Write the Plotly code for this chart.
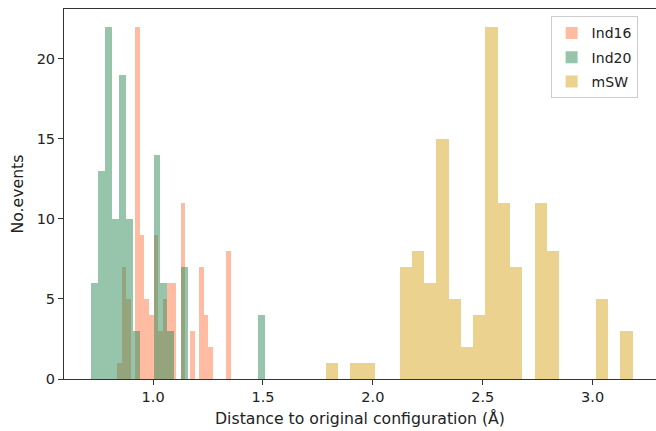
import numpy as np
import plotly.graph_objects as go

# ---- data (histogram counts, 25 bins each) ----
ind16_counts = [1, 7, 5, 0, 22, 9, 5, 4, 9, 3, 5, 6, 6, 0, 11, 0, 3, 0, 7, 4, 2, 0, 0, 0, 8]
ind16_range = [0.8361, 1.3545]
ind20_counts = [6, 13, 22, 10, 19, 10, 3, 0, 0, 14, 6, 3, 0, 7, 0, 0, 0, 0, 0, 0, 0, 0, 0, 0, 4]
ind20_range = [0.7178, 1.5073]
msw_counts = [1, 0, 1, 1, 0, 0, 7, 8, 6, 15, 5, 2, 4, 22, 11, 7, 0, 11, 8, 0, 0, 0, 5, 0, 3]
msw_range = [1.7865, 3.1826]

series_names = ["Ind16", "Ind20", "mSW"]
x_tick_vals = [1.0, 1.5, 2.0, 2.5, 3.0]
x_tick_text = ["1.0", "1.5", "2.0", "2.5", "3.0"]
y_tick_vals = [0, 5, 10, 15, 20]

colors = {
    "Ind16": "rgba(255,160,122,0.7)",
    "Ind20": "rgba(46,139,87,0.5)",
    "mSW": "rgba(218,165,32,0.5)",
}

FONT = "DejaVu Sans"
fig = go.Figure()
for name, counts, rng in [
    ("Ind16", ind16_counts, ind16_range),
    ("Ind20", ind20_counts, ind20_range),
    ("mSW", msw_counts, msw_range),
]:
    edges = np.linspace(rng[0], rng[1], len(counts) + 1)
    centers = (edges[:-1] + edges[1:]) / 2
    widths = np.diff(edges)
    fig.add_trace(go.Bar(
        x=centers, y=counts, width=widths, name=name,
        marker=dict(color=colors[name], line=dict(width=0)),
        legendgroup=name,
    ))

fig.update_layout(
    width=656, height=431,
    margin=dict(l=64, r=0, t=9, b=52),
    paper_bgcolor="white", plot_bgcolor="white",
    barmode="overlay", bargap=0,
    font=dict(family=FONT, size=15, color="#222"),
    legend=dict(
        x=0.822, y=0.98, xanchor="left", yanchor="top",
        bgcolor="rgba(255,255,255,0.8)", bordercolor="#cccccc", borderwidth=1,
        font=dict(size=14), tracegroupgap=3,
    ),
    xaxis=dict(
        range=[0.5946, 3.2885], tickvals=x_tick_vals, ticktext=x_tick_text,
        ticks="outside", ticklen=5, tickcolor="#333", showline=True, mirror=True,
        linecolor="#333", linewidth=1, showgrid=False, zeroline=False,
        tickfont=dict(size=14.5),
        title=dict(text="Distance to original configuration (Å)", standoff=8,
                   font=dict(size=15.7)),
    ),
    yaxis=dict(
        range=[0, 23.1], tickvals=y_tick_vals,
        ticks="outside", ticklen=5, tickcolor="#333", showline=True, mirror=False,
        linecolor="#333", linewidth=1, showgrid=False, zeroline=False,
        tickfont=dict(size=14.5),
        title=dict(text="No.events", standoff=9, font=dict(size=15.7)),
    ),
)

fig.write_html("out.html")
